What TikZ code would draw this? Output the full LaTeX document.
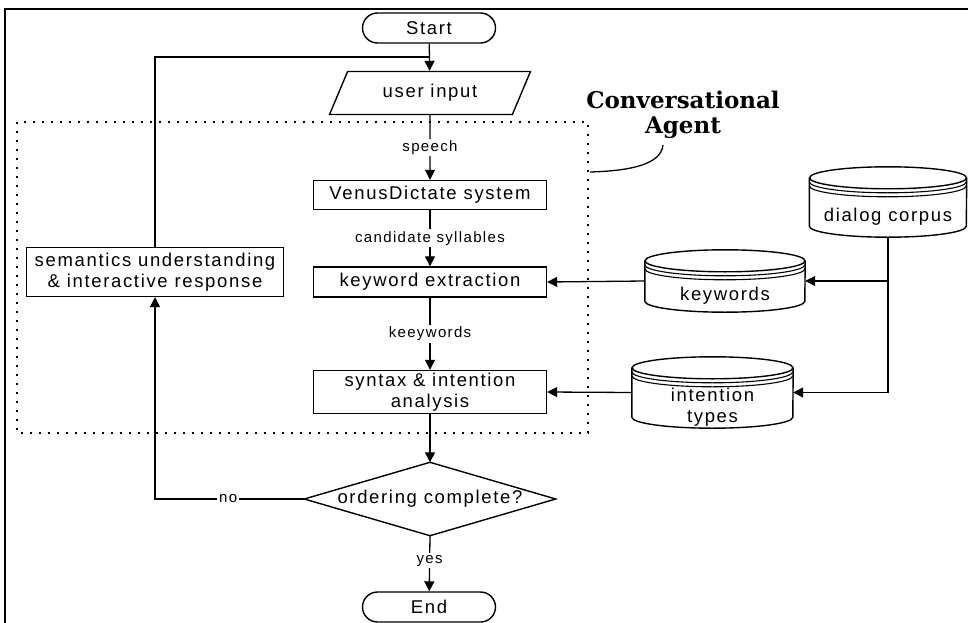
\documentclass[tikz,border=0pt]{standalone}
\usepackage{fontspec}
\setmainfont{Liberation Sans}[LetterSpace=9]
\newfontfamily\agentfont{DejaVu Serif}
\usepackage{tikz}
\usetikzlibrary{calc,arrows.meta,shapes.geometric,shapes.misc}
\tikzset{
	box/.style={draw, line width=1.4pt, inner sep=2pt, align=center, font=\fontsize{18.5}{21}\selectfont},
	term/.style={box, rounded rectangle, minimum width=137, minimum height=30},
	arr/.style={line width=1.3pt, -{Triangle[length=10pt,width=10pt]}},
	lbl/.style={fill=white, inner sep=2pt, font=\fontsize{15}{17}\selectfont},
	dbframe/.style={inner sep=0pt},
	dblabel/.style={align=center, inner sep=0pt, font=\fontsize{18.5}{21}\selectfont}
}
% database drum: (name)(x,y)(half width:half height){text}
\def\dbase(#1)(#2,#3)(#4:#5)#6{
	\node[dbframe, minimum width=2*#4, minimum height=2*#5] (#1) at (#2,#3) {};
	\draw[line width=1.4pt] ($(#1.north)+(0,11)$) ellipse [x radius=#4pt, y radius=11pt];
	\draw[line width=1.4pt] ($(#1.north west)+(0,11)$) -- ($(#1.south west)+(0,-11)$) arc[start angle=180, end angle=360, x radius=#4pt, y radius=11pt] -- ($(#1.north east)+(0,11)$);
	\foreach \d in {4,8}
		\draw[line width=1.1pt] ($(#1.north west)+(0,11+\d)$) arc[start angle=180, end angle=360, x radius=#4pt, y radius=11pt];
	\node[dblabel] (#1-label) at ($(#1.center)+(0,15)$) {#6};
}

\begin{document}
\begin{tikzpicture}[x=1pt, y=-1pt]
	%%%%% START %%%%%
	\useasboundingbox (0,0) rectangle (968,623);
	
	\draw[line width=1.6pt] (5,623) -- (5,9) -- (968,9);
	
	\draw[line width=1.8pt, dash pattern=on 1.6pt off 7.4pt] (17,122) rectangle (588,433);
	
	\node[term] (start) at (429,28) {Start};
	\node[box, trapezium, trapezium left angle=63, trapezium right angle=117, trapezium stretches=true, minimum width=201, minimum height=43] (input) at (430,93) {user input};
	\node[box, minimum width=233, minimum height=29] (venus) at (430,195) {VenusDictate system};
	\node[box, minimum width=233, minimum height=30] (keyex) at (430,282) {keyword extraction};
	\node[box, minimum width=233, minimum height=43, inner sep=1pt] (syntax) at (430,392) {syntax \& intention\\analysis};
	\node[box, minimum width=257, minimum height=49, inner sep=1pt] (sem) at (155,272) {semantics understanding\\\& interactive response};
	
	\node[minimum width=251, minimum height=73, inner sep=0pt, font=\fontsize{18.5}{21}\selectfont] (decide) at (430,499) {ordering complete?};
	\draw[line width=1.4pt] (decide.north) -- (decide.east) -- (decide.south) -- (decide.west) -- cycle;
	
	\node[term] (endn) at (429,607) {End};
	
	\dbase(corpus)(888,202)(78.5:35){dialog corpus}
	\dbase(kw)(725,281)(80:31){keywords}
	\dbase(itype)(712.5,392.5)(80.5:35.5){intention\\types}
	
	% main flow
	\draw[arr] (start) -- (input);
	\draw[arr] (input) -- node[lbl] {speech} (venus);
	\draw[arr] (venus) -- node[lbl] {candidate syllables} (keyex);
	\draw[arr] (keyex) -- node[lbl] {keeywords} (syntax);
	\draw[arr] (syntax) -- (decide.north);
	\draw[arr] (decide.south) -- node[lbl, pos=0.45] {yes} (endn);
	
	% loop back
	\coordinate (join) at (429,57);
	\draw[arr] (decide.west) -| node[lbl, pos=0.255] {no} (sem.south);
	\draw[line width=1.3pt] (sem.north) |- (join);
	
	% knowledge sources
	\draw[arr] (kw.west) -- (keyex.east);
	\draw[arr] (itype.west) -- (syntax.east);
	\draw[arr] (corpus.south) |- (kw.east);
	\draw[arr] (corpus.south) |- (itype.east);
	
	% agent label
	\node[align=center, inner sep=0pt, font=\agentfont\bfseries\fontsize{23}{25}\selectfont] (agent) at (683,115) {Conversational\\Agent};
	\coordinate (hook) at (663,145);
	\coordinate (tail) at (590,172);
	\draw[line width=1.3pt] (hook) .. controls (661,166) and (625,171) .. (tail);
	%%%%% END %%%%%
\end{tikzpicture}
\end{document}
